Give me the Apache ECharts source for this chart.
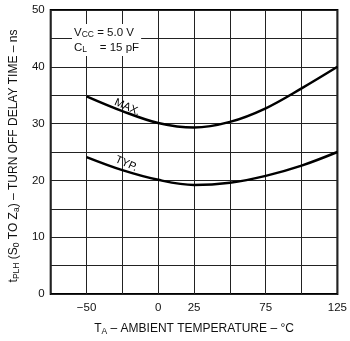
<!DOCTYPE html>
<html><head><meta charset="utf-8">
<script src="https://cdn.jsdelivr.net/npm/echarts@6/dist/echarts.min.js"></script>
<style>html,body{margin:0;padding:0;background:#fff}#c{width:350px;height:341px}</style>
</head><body><div id="c"></div>
<script>
const temps = [-50, -25, 0, 25, 50, 75, 100, 125];
const maxDelay = [34.8, 32.2, 30.1, 29.3, 30.3, 32.7, 36.2, 40.0];
const typDelay = [24.1, 21.8, 20.1, 19.2, 19.6, 20.8, 22.6, 25.0];
const xTickLabels = [-50, 0, 25, 75, 125];
const yTickLabels = [0, 10, 20, 30, 40, 50];
const curveLabels = ['MAX.', 'TYP.'];
const labelTemp = -25;

const font = 'Liberation Sans, Arial, sans-serif';
const chart = echarts.init(document.getElementById('c'), null, {renderer: 'canvas'});
const sub = {fontSize: 8.5, fontFamily: font, color: '#111', padding: [5, 0, 0, 0]};

function curve(name, data) {
  return {
    type: 'line', name, smooth: 0.35, symbol: 'none',
    lineStyle: {color: '#000', width: 2.5},
    data: temps.map((t, i) => [t, data[i]]),
    z: 5
  };
}
const li = temps.indexOf(labelTemp);

chart.setOption({
  animation: false,
  grid: {left: 49, right: 10, top: 10, bottom: 44, show: true, borderColor: '#000', borderWidth: 2},
  xAxis: {
    type: 'value', min: -75, max: 125, interval: 25,
    name: '{n|T}{s|A}{n| – AMBIENT TEMPERATURE – °C}', nameLocation: 'middle', nameGap: 28,
    nameTextStyle: {rich: {n: {fontSize: 12, fontFamily: font, color: '#111'}, s: sub}},
    axisLine: {show: false}, axisTick: {show: false},
    axisLabel: {fontSize: 11.5, fontFamily: font, color: '#111', margin: 8,
      formatter: v => xTickLabels.includes(v) ? (v < 0 ? '−' + Math.abs(v) : String(v)) : ''},
    splitLine: {show: true, lineStyle: {color: '#222', width: 1}}
  },
  yAxis: {
    type: 'value', min: 0, max: 50, interval: 5,
    name: '{n|t}{s|PLH}{n| (S}{s|0}{n| TO Z}{s|a}{n|) – TURN OFF DELAY TIME – ns}',
    nameLocation: 'middle', nameGap: 28,
    nameTextStyle: {padding: [0, 0, 0, -8], rich: {n: {fontSize: 12, fontFamily: font, color: '#111'}, s: sub}},
    axisLine: {show: false}, axisTick: {show: false},
    axisLabel: {fontSize: 11.5, fontFamily: font, color: '#111', margin: 6,
      formatter: v => yTickLabels.includes(v) ? String(v) : ''},
    splitLine: {show: true, lineStyle: {color: '#222', width: 1}}
  },
  series: [
    curve('MAX', maxDelay),
    curve('TYP', typDelay),
    {
      type: 'scatter', symbolSize: 1, itemStyle: {color: '#fff', opacity: 1}, z: 1, silent: true,
      data: [
        {value: [labelTemp, maxDelay[li]], label: {formatter: curveLabels[0], offset: [3, -5.5]}},
        {value: [labelTemp, typDelay[li]], label: {formatter: curveLabels[1], offset: [1, -7.5]}}
      ],
      label: {show: true, position: 'inside', rotate: -24, fontSize: 11, fontFamily: font, color: '#000', opacity: 1}
    }
  ],
  graphic: [{
    type: 'text', left: 72, top: 24, z: 10,
    style: {text: '{n|V}{s|CC}{n| = 5.0 V}\n{n|C}{s|L}{n|    = 15 pF}', fontFamily: font,
      rich: {n: {fontSize: 11.5, fontFamily: font, fill: '#111', lineHeight: 15}, s: {fontSize: 8.5, fontFamily: font, fill: '#111', padding: [5, 0, 0, 0], lineHeight: 15}},
      backgroundColor: '#fff', padding: [1, 2, 1, 2]}
  }]
});
</script></body></html>
